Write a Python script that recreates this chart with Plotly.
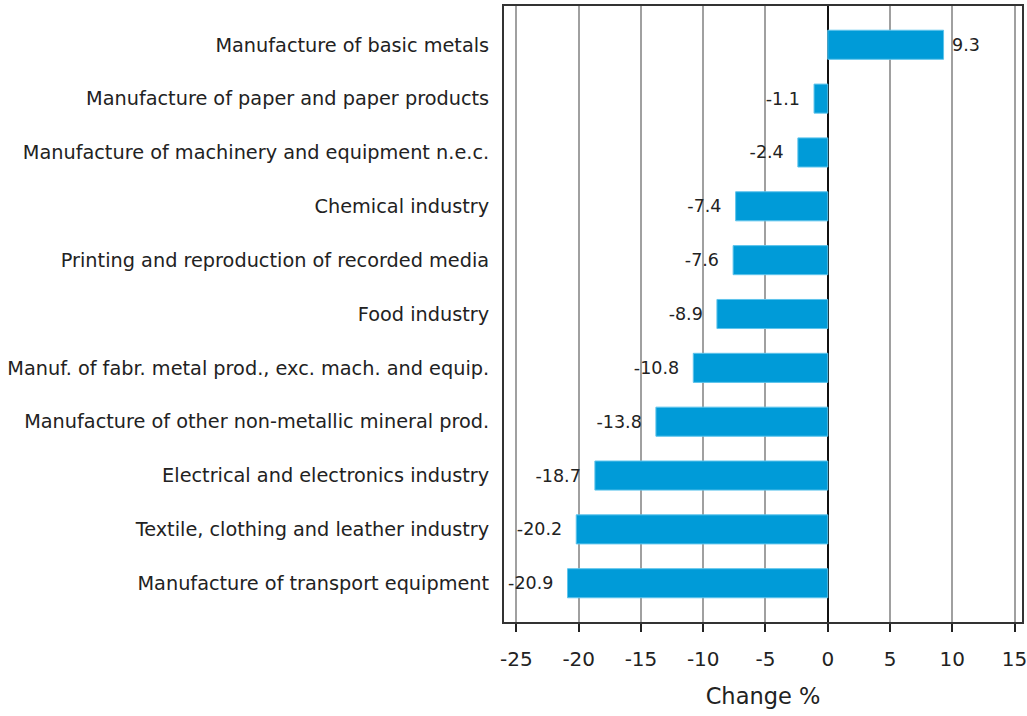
import plotly.graph_objects as go

categories = [
    "Manufacture of basic metals",
    "Manufacture of paper and paper products",
    "Manufacture of machinery and equipment n.e.c.",
    "Chemical industry",
    "Printing and reproduction of recorded media",
    "Food industry",
    "Manuf. of fabr. metal prod., exc. mach. and equip.",
    "Manufacture of other non-metallic mineral prod.",
    "Electrical and electronics industry",
    "Textile, clothing and leather industry",
    "Manufacture of transport equipment",
]
values = [9.3, -1.1, -2.4, -7.4, -7.6, -8.9, -10.8, -13.8, -18.7, -20.2, -20.9]
NB = "\u00a0"
labels = [(NB + f"{v:.1f}") if v >= 0 else (f"{v:.1f}" + NB + NB) for v in values]
tick_vals = [-25, -20, -15, -10, -5, 0, 5, 10, 15]
tick_text = ["-25", "-20", "-15", "-10", "-5", "0", "5", "10", "15"]

FONT = "DejaVu Sans, Verdana, sans-serif"

fig = go.Figure(go.Bar(
    y=categories, x=values, orientation="h",
    marker=dict(color="#009BD8", line=dict(color="#5EC4EC", width=1)),
    width=0.54,
    text=labels, textposition="outside", cliponaxis=False,
    textfont=dict(family=FONT, size=17.5, color="#222"),
))

fig.update_layout(
    width=1027, height=716,
    margin=dict(l=504, r=5, t=6, b=94, autoexpand=False),
    plot_bgcolor="white", paper_bgcolor="white",
    showlegend=False,
    font=dict(family=FONT, color="#222"),
    xaxis=dict(
        range=[-26, 15.6], tickvals=tick_vals, ticktext=tick_text,
        automargin=False,
        showgrid=True, gridcolor="#A0A0A0", gridwidth=1.5,
        zeroline=True, zerolinecolor="#111", zerolinewidth=1.5,
        ticks="outside", ticklen=8, tickcolor="#222", tickwidth=2,
        tickfont=dict(size=20),
        ticklabelstandoff=10,
        ticklabeloverflow="allow",
        title=dict(text="Change %", font=dict(size=22.5), standoff=18),
        showline=True, linecolor="#333", linewidth=2, mirror=True,
    ),
    yaxis=dict(
        categoryorder="array", categoryarray=categories[::-1],
        range=[-0.72, 10.72],
        automargin=False,
        tickfont=dict(size=19.3),
        ticks="", ticklen=0,
        ticklabelstandoff=9,
        showline=True, linecolor="#333", linewidth=2, mirror=True,
    ),
)

fig.write_html("out.html", config={"displayModeBar": False},
               post_script="document.body.style.margin='0';")
